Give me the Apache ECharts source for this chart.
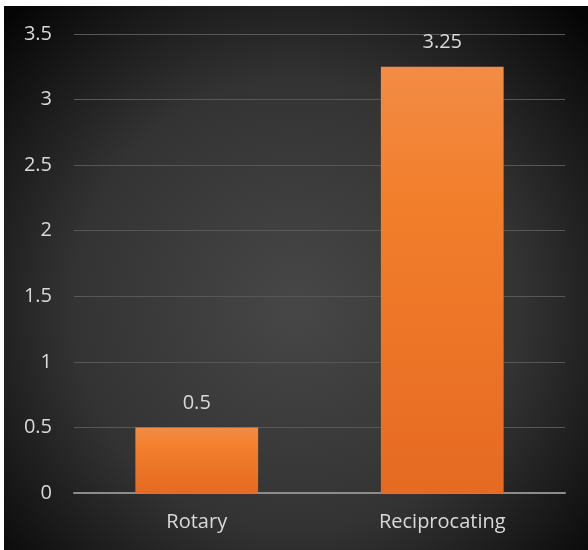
<!DOCTYPE html>
<html><head><meta charset="utf-8">
<script src="https://cdn.jsdelivr.net/npm/echarts@6/dist/echarts.min.js"></script>
<style>
html,body{margin:0;padding:0;background:#fff;width:588px;height:550px;overflow:hidden}
#c{position:absolute;left:4px;top:6px;width:584px;height:544px}
</style></head><body>
<div id="c"></div>
<script>
const categories = ['Rotary', 'Reciprocating'];
const values = [0.5, 3.25];
const yMin = 0, yMax = 3.5, yStep = 0.5;

const chart = echarts.init(document.getElementById('c'), null, {renderer:'canvas'});
chart.setOption({
  backgroundColor: {type:'radial', x:0.5, y:0.55, r:0.75,
    colorStops:[{offset:0,color:'#474747'},{offset:0.55,color:'#333333'},{offset:1,color:'#050505'}]},
  animation:false,
  grid:{left:70, right:23, top:28, bottom:57, containLabel:false},
  xAxis:{type:'category', data:categories,
    axisLine:{lineStyle:{color:'#8c8c8c', width:2}},
    axisTick:{show:false},
    axisLabel:{color:'#d9d9d9', fontSize:20, fontFamily:'Open Sans', margin:19}},
  yAxis:{type:'value', min:yMin, max:yMax, interval:yStep,
    axisLine:{show:false}, axisTick:{show:false},
    splitLine:{lineStyle:{color:'#575757', width:1}},
    axisLabel:{color:'#d9d9d9', fontSize:20, fontFamily:'Open Sans', margin:22}},
  series:[{type:'bar', data:values, barWidth:'50%',
    itemStyle:{color:{type:'linear',x:0,y:0,x2:0,y2:1,
      colorStops:[{offset:0,color:'#f28c46'},{offset:0.3,color:'#f27f2c'},{offset:1,color:'#e66a22'}]}},
    label:{show:true, position:'top', distance:14, color:'#d9d9d9', fontSize:20, fontFamily:'Open Sans'}}]
});
</script></body></html>
